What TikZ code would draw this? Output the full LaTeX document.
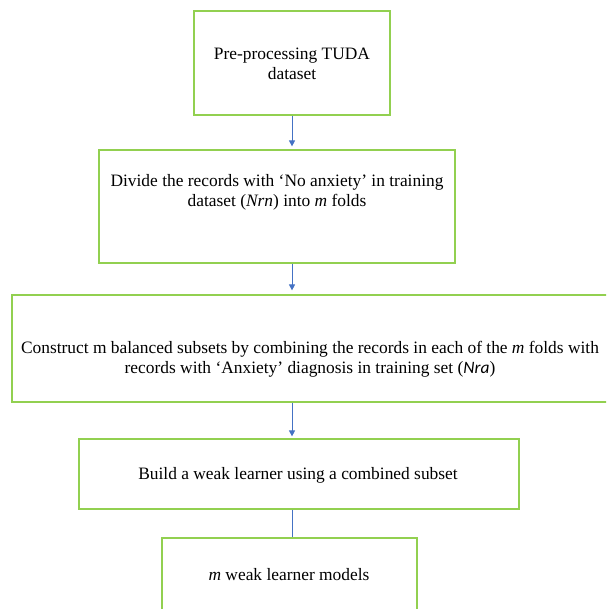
\documentclass[tikz,border=0pt]{standalone}
\usepackage{fontspec}
\setmainfont{Liberation Serif}
\newfontfamily\calibrifont{Carlito}
\usetikzlibrary{arrows.meta}
\definecolor{stagegreen}{RGB}{146,208,80}
\definecolor{flowblue}{RGB}{68,114,196}
\begin{document}
\begin{tikzpicture}[x=1pt,y=-1pt,font=\fontsize{17.4}{20}\selectfont,stage/.style={draw=stagegreen,line width=1.2pt,inner sep=0pt},stage-text/.style={align=center,inner sep=0pt},flow/.style={draw=flowblue,line width=0.9pt,-{Triangle[length=6pt,width=6pt]}},link/.style={draw=flowblue,line width=0.9pt}]
\useasboundingbox (0,0) rectangle (606,609);
\clip (0,0) rectangle (606,609);
\node[stage,minimum width=196pt,minimum height=104pt] (stage-0) at (292,63) {};
\node[stage,minimum width=356pt,minimum height=113pt] (stage-1) at (277,206.5) {};
\node[stage,minimum width=628pt,minimum height=107pt] (stage-2) at (326,348.5) {};
\node[stage,minimum width=440pt,minimum height=70pt] (stage-3) at (299,474) {};
\node[stage,minimum width=255pt,minimum height=90pt] (stage-4) at (289.5,583) {};
\node[stage-text] (stage-label-0) at (292,63.5) {Pre-processing TUDA\\dataset};
\node[stage-text] (stage-label-1) at (277,192.5) {Divide the records with ‘No anxiety’ in training\\dataset (\textit{Nrn}) into \textit{m} folds};
\node[stage-text] (stage-label-2) at (310,359) {Construct m balanced subsets by combining the records in each of the \textit{m} folds with\\records with ‘Anxiety’ diagnosis in training set ({\calibrifont\itshape Nra})};
\node[stage-text] (stage-label-3) at (298,475) {Build a weak learner using a combined subset};
\node[stage-text] (stage-label-4) at (289,575) {\textit{m} weak learner models};
\draw[flow] (stage-0.south) -- ([yshift=3pt]stage-0.south |- stage-1.north);
\draw[flow] (stage-0.south |- stage-1.south) -- ([yshift=4pt]stage-0.south |- stage-2.north);
\draw[flow] (stage-0.south |- stage-2.south) -- ([yshift=2pt]stage-0.south |- stage-3.north);
\draw[link] (stage-0.south |- stage-3.south) -- (stage-0.south |- stage-4.north);
\end{tikzpicture}
\end{document}
